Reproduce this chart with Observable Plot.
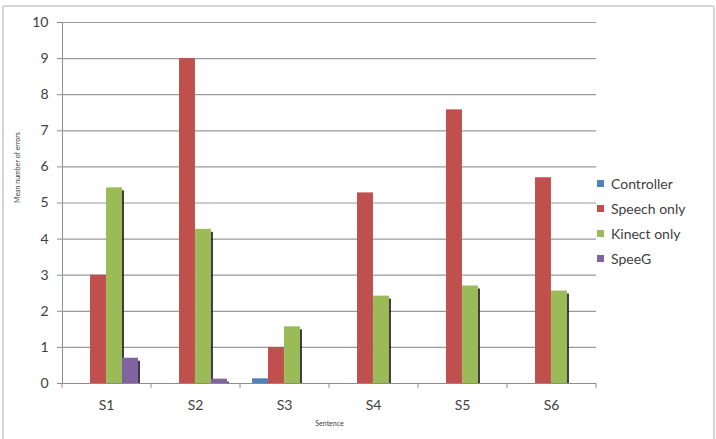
<!DOCTYPE html>
<html>
<head>
<meta charset="utf-8">
<script src="https://cdn.jsdelivr.net/npm/d3@7"></script>
<script src="https://cdn.jsdelivr.net/npm/@observablehq/plot@0.6"></script>
<style>
  html, body { margin: 0; padding: 0; background: #fff; }
  #wrap { position: relative; width: 716px; height: 439px; overflow: hidden; font-family: Lato, "Open Sans", sans-serif; }
  #border { position: absolute; left: 2px; top: 5px; width: 709px; height: 450px; border: 2px solid #d6d6d6; border-radius: 3px; }
  #chart { position: absolute; left: 0; top: 0; }
  #chart svg text { fill: #404040; }
  #legend { position: absolute; left: 597px; top: 171px; font-size: 14px; color: #404040; }
  .item { height: 25px; display: flex; align-items: center; white-space: nowrap; }
  .sw { width: 7px; height: 7px; margin-right: 7px; }
</style>
</head>
<body>
<div id="wrap">
  <div id="border"></div>
  <div id="chart"></div>
  <div id="legend"></div>
</div>
<script>
const sentences = ["S1", "S2", "S3", "S4", "S5", "S6"];
const series = ["Controller", "Speech only", "Kinect only", "SpeeG"];
const controller = [0, 0, 0.13, 0, 0, 0];
const speechOnly = [3.0, 9.0, 1.0, 5.28, 7.58, 5.7];
const kinectOnly = [5.42, 4.27, 1.57, 2.42, 2.7, 2.56];
const speeG = [0.7, 0.12, 0, 0, 0, 0];
const yTicks = [0, 1, 2, 3, 4, 5, 6, 7, 8, 9, 10];
const colors = ["#4F81BD", "#C0504D", "#9BBB59", "#8064A2"];
const shadowed = [true, false, true, true];
const yLabel = "Mean number of errors";
const xLabel = "Sentence";

const valuesBySeries = [controller, speechOnly, kinectOnly, speeG];
const rows = [];
series.forEach((s, i) => {
  sentences.forEach((sent, j) => {
    rows.push({sentence: sent, series: s, idx: i, value: valuesBySeries[i][j]});
  });
});

const W = 716, H = 439;
const mL = 62, mR = 120, mT = 22, mB = 56;
const padIn = 0.28;
const step = (W - mL - mR) / sentences.length;
const bw = step * (1 - padIn);
const barW = bw / series.length;

const marks = [];
// gridlines
marks.push(Plot.ruleY(yTicks.filter(d => d > 0), {y: d => d, stroke: "#9a9a9a", strokeWidth: 1.2}));
// shadows
series.forEach((s, i) => {
  if (!shadowed[i]) return;
  marks.push(Plot.barY(rows.filter(r => r.idx === i && r.value > 0), {
    x: "sentence", y: "value",
    insetLeft: i * barW, insetRight: (series.length - 1 - i) * barW,
    insetTop: 3, dx: 2, fill: "#1c1c1c", fillOpacity: 0.85
  }));
});
// bars
series.forEach((s, i) => {
  marks.push(Plot.barY(rows.filter(r => r.idx === i && r.value > 0), {
    x: "sentence", y: "value",
    insetLeft: i * barW, insetRight: (series.length - 1 - i) * barW,
    fill: colors[i]
  }));
});
// baseline
marks.push(Plot.ruleY([0], {stroke: "#8c8c8c", strokeWidth: 1.2}));
// category boundary ticks
marks.push(Plot.ruleX(sentences, {x: d => d, dx: -step / 2, y1: 0, y2: 0, insetBottom: -5, stroke: "#8c8c8c"}));
marks.push(Plot.ruleX(sentences.slice(-1), {x: d => d, dx: step / 2, y1: 0, y2: 0, insetBottom: -5, stroke: "#8c8c8c"}));
// axis titles
marks.push(Plot.text([yLabel], {text: d => d, frameAnchor: "left", rotate: -90, dx: -45, fontSize: 7, fill: "#595959"}));
marks.push(Plot.text([xLabel], {text: d => d, frameAnchor: "bottom", dy: 42, fontSize: 7, fill: "#595959"}));

const chart = Plot.plot({
  width: W, height: H,
  marginLeft: mL, marginRight: mR, marginTop: mT, marginBottom: mB,
  style: {background: "transparent", color: "#8c8c8c", fontSize: "14px", fontFamily: "Lato, 'Open Sans', sans-serif"},
  x: {domain: sentences, paddingInner: padIn, paddingOuter: padIn / 2, tickSize: 0, tickPadding: 17, label: null},
  y: {domain: [0, 10], ticks: yTicks, tickSize: 5, tickPadding: 9, line: true, label: null},
  marks
});
document.getElementById("chart").appendChild(chart);

const legend = document.getElementById("legend");
series.forEach((s, i) => {
  const it = document.createElement("div");
  it.className = "item";
  const sw = document.createElement("span");
  sw.className = "sw";
  sw.style.background = colors[i];
  const tx = document.createElement("span");
  tx.textContent = s;
  it.appendChild(sw); it.appendChild(tx);
  legend.appendChild(it);
});
</script>
</body>
</html>
